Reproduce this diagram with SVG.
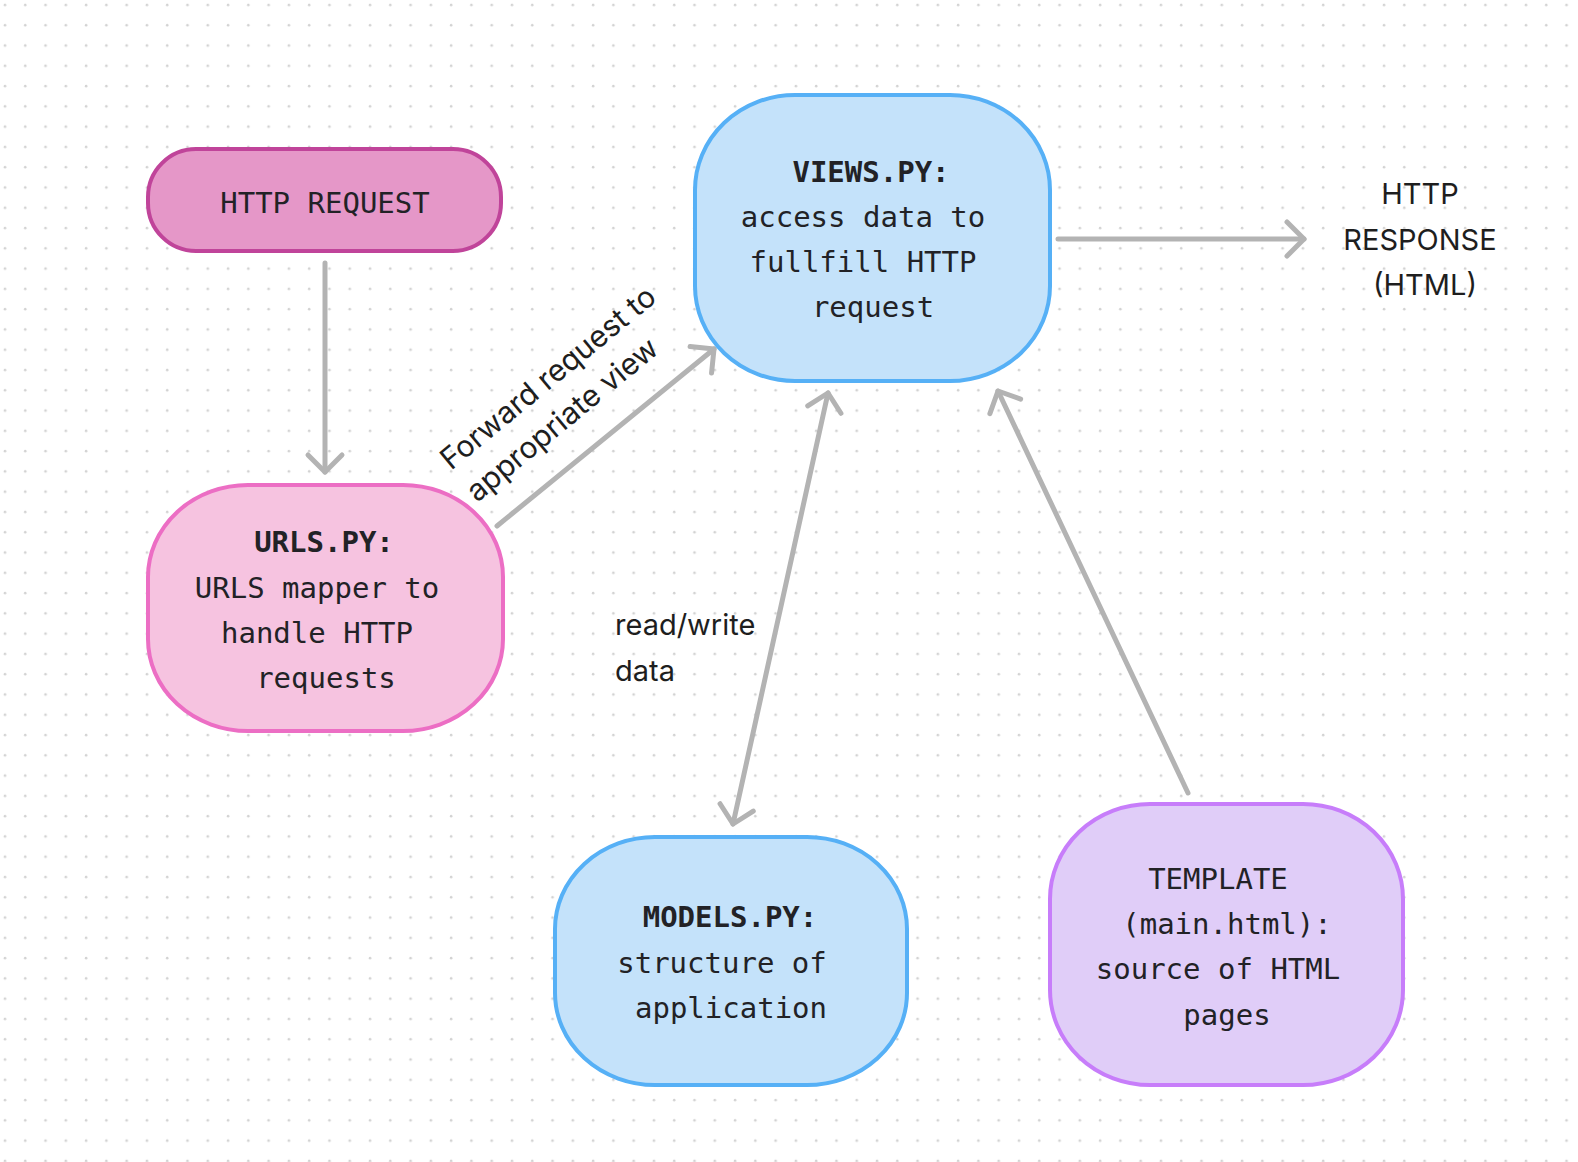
<svg xmlns="http://www.w3.org/2000/svg" width="1578" height="1162" viewBox="0 0 1578 1162">
<defs>
<pattern id="dots" x="0" y="0" width="20.28" height="20.28" patternUnits="userSpaceOnUse">
<circle cx="5" cy="5" r="1.3" fill="#d2d2d2"/>
</pattern>
<marker id="chev" markerUnits="userSpaceOnUse" viewBox="-25 -25 50 50" markerWidth="50" markerHeight="50" refX="0" refY="0" orient="auto-start-reverse">
<path d="M -17 -17 L 0 0 L -17 17" fill="none" stroke="#b3b3b3" stroke-width="5" stroke-linecap="round" stroke-linejoin="round"/>
</marker>
<style>
.mono{font-family:"DejaVu Sans Mono","Liberation Mono",monospace;font-size:29px;fill:#222226;text-anchor:middle}
.b{font-weight:bold}
.sans{font-family:Inter,"Noto Sans","Liberation Sans",sans-serif;font-size:29px;fill:#1e1e1e}
.rot{font-size:30px}
.conn{fill:none;stroke:#b3b3b3;stroke-width:5;stroke-linecap:round}
</style>
</defs>
<rect width="1578" height="1162" fill="#ffffff"/>
<rect width="1578" height="1162" fill="url(#dots)"/>

<g id="connectors">
<line class="conn" x1="325" y1="263" x2="325" y2="472" marker-end="url(#chev)"/>
<line class="conn" x1="497" y1="526" x2="714" y2="349" marker-end="url(#chev)"/>
<line class="conn" x1="1058" y1="239" x2="1304" y2="239" marker-end="url(#chev)"/>
<line class="conn" x1="828" y1="393" x2="733" y2="824" marker-start="url(#chev)" marker-end="url(#chev)"/>
<line class="conn" x1="1188" y1="793" x2="998" y2="391" marker-end="url(#chev)"/>
<text class="sans rot" transform="translate(451 471) rotate(-39.5)">Forward request to</text>
<text class="sans rot" transform="translate(477 503) rotate(-39.5)">appropriate view</text>
<text class="sans" x="615" y="635">read/write</text>
<text class="sans" x="615" y="681">data</text>
</g>

<g id="http-request">
<rect x="148" y="149" width="353" height="102" rx="48" ry="48" fill="#e597c8" stroke="#c0449a" stroke-width="4"/>
<text class="mono" x="325" y="213">HTTP REQUEST</text>
</g>

<g id="views">
<rect x="695" y="95" width="355" height="286" rx="100" ry="95" fill="#c4e2fa" stroke="#56b0f6" stroke-width="4"/>
<text class="mono b" x="871" y="182">VIEWS.PY:</text>
<text class="mono" x="863" y="227">access data to</text>
<text class="mono" x="863" y="272">fullfill HTTP</text>
<text class="mono" x="873" y="317">request</text>
</g>

<g id="http-response">
<text class="sans" x="1420" y="204" text-anchor="middle">HTTP</text>
<text class="sans" x="1420" y="250" text-anchor="middle">RESPONSE</text>
<text class="sans" x="1425" y="295" text-anchor="middle">(HTML)</text>
</g>

<g id="urls">
<rect x="148" y="485" width="355" height="246" rx="100" ry="92" fill="#f6c3e0" stroke="#ec6ec4" stroke-width="4"/>
<text class="mono b" x="324" y="552">URLS.PY:</text>
<text class="mono" x="317" y="598">URLS mapper to</text>
<text class="mono" x="317" y="643">handle HTTP</text>
<text class="mono" x="326" y="688">requests</text>
</g>

<g id="models">
<rect x="555" y="837" width="352" height="248" rx="100" ry="92" fill="#c4e2fa" stroke="#56b0f6" stroke-width="4"/>
<text class="mono b" x="730" y="927">MODELS.PY:</text>
<text class="mono" x="722" y="973">structure of</text>
<text class="mono" x="731" y="1018">application</text>
</g>

<g id="template">
<rect x="1050" y="804" width="353" height="281" rx="100" ry="95" fill="#e0cdf8" stroke="#c77dfa" stroke-width="4"/>
<text class="mono" x="1218" y="889">TEMPLATE</text>
<text class="mono" x="1227" y="934">(main.html):</text>
<text class="mono" x="1218" y="979">source of HTML</text>
<text class="mono" x="1227" y="1025">pages</text>
</g>
</svg>
